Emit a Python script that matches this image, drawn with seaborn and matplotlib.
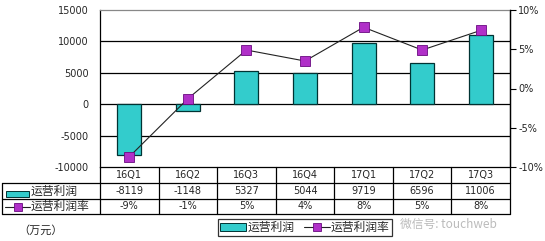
import matplotlib
matplotlib.use("Agg")
import matplotlib.pyplot as plt
import matplotlib.transforms as mtransforms
from matplotlib.patches import Rectangle
from matplotlib.lines import Line2D
import numpy as np
import pandas as pd
import seaborn as sns

categories = ["16Q1", "16Q2", "16Q3", "16Q4", "17Q1", "17Q2", "17Q3"]
profit = [-8119, -1148, 5327, 5044, 9719, 6596, 11006]
margin = [-8.7, -1.3, 4.9, 3.5, 7.8, 4.9, 7.4]
margin_labels = ["-9%", "-1%", "5%", "4%", "8%", "5%", "8%"]
left_ticks = [-10000, -5000, 0, 5000, 10000, 15000]
right_ticks = [-10, -5, 0, 5, 10]
right_tick_labels = ["-10%", "-5%", "0%", "5%", "10%"]

BAR = "#33CCCC"
BAR_EDGE = "#003333"
MARK = "#B030C8"
MARK_EDGE = "#6A0A80"

sns.set_style("white")
plt.rcParams["font.family"] = ["DejaVu Sans", "Noto Sans CJK SC"]
CJK = ["Noto Sans CJK SC", "DejaVu Sans"]

W, H = 545, 241
fig = plt.figure(figsize=(W / 100, H / 100), dpi=100)
L, R, T, B = 100, 510, 10, 167
ax = fig.add_axes([L / W, 1 - B / H, (R - L) / W, (B - T) / H])

def fy(px):
    return 1 - px / H

def fx(px):
    return px / W

df = pd.DataFrame({"cat": categories, "profit": profit})
sns.barplot(data=df, x="cat", y="profit", ax=ax, color=BAR, edgecolor=BAR_EDGE,
            linewidth=0.9, width=0.41, saturation=1, zorder=3)
ax.set_xlim(-0.5, len(categories) - 0.5)
ax.set_ylim(-10000, 15000)
ax.set_yticks(left_ticks)
ax.set_yticklabels([str(v) for v in left_ticks], fontsize=7)
ax.tick_params(axis="y", length=0, pad=8)
ax.set_xticks([])
ax.set_xlabel("")
ax.set_ylabel("")
for v in [-5000, 0, 5000, 10000]:
    ax.axhline(v, color="black", linewidth=0.9, zorder=1)
for s in ["left", "bottom"]:
    ax.spines[s].set_color("black")
    ax.spines[s].set_linewidth(0.9)
ax.spines["top"].set_color("#888888")
ax.spines["top"].set_linewidth(0.9)
ax.spines["right"].set_color("black")
ax.spines["right"].set_linewidth(0.9)

ax2 = ax.twinx()
sns.lineplot(x=np.arange(len(categories)), y=margin, ax=ax2, color="#222222",
             linewidth=0.8, marker="s", markersize=6.5, markerfacecolor=MARK,
             markeredgecolor=MARK_EDGE, markeredgewidth=0.6, zorder=5)
ax2.set_ylim(-10, 10)
ax2.set_yticks(right_ticks)
ax2.set_yticklabels(right_tick_labels, fontsize=7)
ax2.tick_params(axis="y", direction="out", length=4, width=0.8, color="black", pad=2)
ax2.set_ylabel("")
for s in ax2.spines.values():
    s.set_visible(False)
ax2.spines["right"].set_visible(True)
ax2.spines["right"].set_color("black")
ax2.spines["right"].set_linewidth(0.9)

# table below the plot
r1, r2, r3, r4 = 167, 183, 198.5, 214
bt = mtransforms.blended_transform_factory(ax.transData, fig.transFigure)
lw = 0.9
for yy in [r2, r3, r4]:
    fig.add_artist(Line2D([fx(2), fx(R)], [fy(yy), fy(yy)], color="black", lw=lw, transform=fig.transFigure))
fig.add_artist(Line2D([fx(2), fx(2)], [fy(r2), fy(r4)], color="black", lw=lw, transform=fig.transFigure))
for k in range(len(categories) + 1):
    xk = k - 0.5
    fig.add_artist(Line2D([xk, xk], [fy(r1), fy(r4)], color="black", lw=lw, transform=bt))
for i, c in enumerate(categories):
    fig.text(i, fy((r1 + r2) / 2), c, transform=bt, ha="center", va="center", fontsize=7)
    fig.text(i, fy((r2 + r3) / 2), str(profit[i]), transform=bt, ha="center", va="center", fontsize=7)
    fig.text(i, fy((r3 + r4) / 2), margin_labels[i], transform=bt, ha="center", va="center", fontsize=7)

# row header symbols
fig.add_artist(Rectangle((fx(6), fy(197)), fx(23), 6 / H, facecolor=BAR, edgecolor=BAR_EDGE,
                         lw=0.7, transform=fig.transFigure))
fig.text(fx(31), fy(191), "运营利润", family=CJK, fontsize=8.5, ha="left", va="center")
fig.add_artist(Line2D([fx(5), fx(30)], [fy(206.5), fy(206.5)], color="#222222", lw=0.8,
                      transform=fig.transFigure))
fig.add_artist(Line2D([fx(18)], [fy(206.5)], marker="s", markersize=6, markerfacecolor=MARK,
                      markeredgecolor=MARK_EDGE, markeredgewidth=0.6, transform=fig.transFigure))
fig.text(fx(31), fy(206), "运营利润率", family=CJK, fontsize=8.5, ha="left", va="center")

fig.text(fx(18), fy(230), "（万元）", family=CJK, fontsize=8, ha="left", va="center")

# watermark (kept just below the table so it does not cover the cell values)
fig.text(fx(400), fy(224), "微信号: touchweb", family=CJK, fontsize=8.5, color="#BBBBBB",
         ha="left", va="center", zorder=0)

# legend
handles = [Rectangle((0, 0), 1, 1, facecolor=BAR, edgecolor=BAR_EDGE, lw=0.7),
           Line2D([0], [0], color="#222222", lw=0.8, marker="s", markersize=6,
                  markerfacecolor=MARK, markeredgecolor=MARK_EDGE, markeredgewidth=0.6)]
leg = fig.legend(handles, ["运营利润", "运营利润率"], loc="center",
                 bbox_to_anchor=(fx(305), fy(227.5)), ncol=2, frameon=True, fancybox=False,
                 prop={"family": CJK, "size": 8.5}, handlelength=2.2, handleheight=0.7,
                 handletextpad=0.1, columnspacing=0.8, borderpad=0.15, borderaxespad=0)
leg.get_frame().set_edgecolor("black")
leg.get_frame().set_linewidth(0.9)

fig.savefig("out.png", dpi=100, facecolor="white")
